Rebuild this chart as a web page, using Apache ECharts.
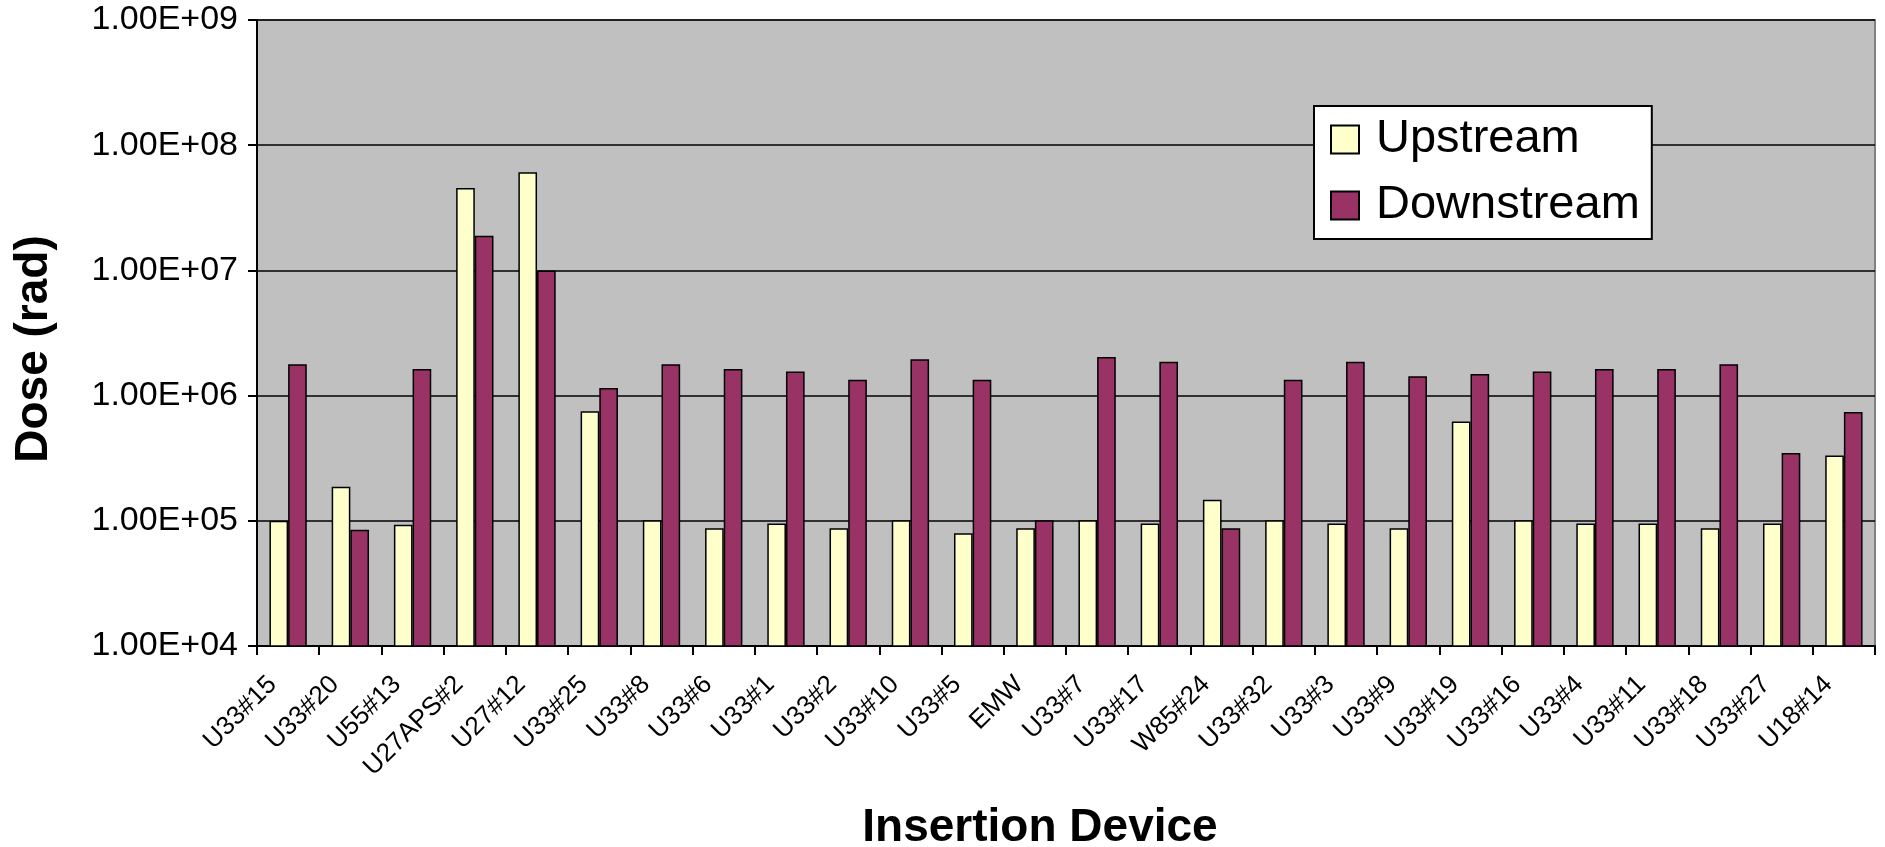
<!DOCTYPE html>
<html>
<head>
<meta charset="utf-8">
<script src="https://cdn.jsdelivr.net/npm/echarts@6/dist/echarts.min.js"></script>
<style>
html,body{margin:0;padding:0;background:#fff;}
#chart{width:1885px;height:847px;}
</style>
</head>
<body>
<div id="chart"></div>
<script>
const categories = ["U33#15","U33#20","U55#13","U27APS#2","U27#12","U33#25","U33#8","U33#6","U33#1","U33#2","U33#10","U33#5","EMW","U33#7","U33#17","W85#24","U33#32","U33#3","U33#9","U33#19","U33#16","U33#4","U33#11","U33#18","U33#27","U18#14"];
const upstream = [1.0e5,1.87e5,9.3e4,4.56e7,6.08e7,7.5e5,1.01e5,8.7e4,9.5e4,8.7e4,1.01e5,7.95e4,8.7e4,1.01e5,9.5e4,1.47e5,1.01e5,9.5e4,8.7e4,6.2e5,1.01e5,9.5e4,9.5e4,8.7e4,9.5e4,3.33e5];
const downstream = [1.78e6,8.5e4,1.63e6,1.89e7,1.0e7,1.15e6,1.78e6,1.63e6,1.56e6,1.34e6,1.95e6,1.34e6,1.01e5,2.03e6,1.86e6,8.7e4,1.34e6,1.86e6,1.43e6,1.49e6,1.56e6,1.63e6,1.63e6,1.78e6,3.48e5,7.38e5];
const seriesNames = ["Upstream","Downstream"];
const yTitle = "Dose (rad)";
const xTitle = "Insertion Device";

const chart = echarts.init(document.getElementById('chart'));
const font = 'Liberation Sans, Arial, sans-serif';
chart.setOption({
  animation: false,
  backgroundColor: '#ffffff',
  grid: {left: 257, top: 20, right: 10, bottom: 201, show: true, backgroundColor: '#c0c0c0', borderColor: '#808080', borderWidth: 2},
  legend: {
    orient: 'vertical', left: 1314, top: 106,
    backgroundColor: '#ffffff', borderColor: '#000000', borderWidth: 2,
    padding: [10, 12, 10, 16], itemWidth: 28, itemHeight: 28, itemGap: 19,
    icon: 'rect',
    textStyle: {fontSize: 47, fontFamily: font, color: '#000', padding: [0, 0, 0, 12]},
    itemStyle: {borderColor: '#000', borderWidth: 2},
    data: seriesNames
  },
  xAxis: {
    type: 'category', data: categories,
    axisLine: {lineStyle: {color: '#000', width: 2}},
    axisTick: {show: true, inside: false, length: 9, lineStyle: {color: '#000', width: 2}},
    axisLabel: {rotate: 45, fontSize: 26, fontFamily: 'Liberation Sans Narrow, Liberation Sans, Arial', color: '#000', margin: 19, interval: 0, padding: [0, 22, 0, 0]},
    splitLine: {show: false}
  },
  yAxis: {
    type: 'log', logBase: 10, min: 1e4, max: 1e9,
    axisLine: {show: true, lineStyle: {color: '#000', width: 2}},
    axisTick: {show: true, inside: false, length: 9, lineStyle: {color: '#000', width: 2}},
    axisLabel: {fontSize: 34, fontFamily: font, color: '#000', margin: 19,
      formatter: v => '1.00E+' + String(Math.round(Math.log10(v))).padStart(2, '0')},
    splitLine: {show: true, lineStyle: {color: '#000', width: 1.5}}
  },
  series: [
    {name: seriesNames[0], type: 'bar', data: upstream, barGap: '0%', barCategoryGap: '40%',
     itemStyle: {color: '#ffffcc', borderColor: '#000', borderWidth: 1.5}},
    {name: seriesNames[1], type: 'bar', data: downstream, barGap: '0%', barCategoryGap: '40%',
     itemStyle: {color: '#993366', borderColor: '#000', borderWidth: 1.5}}
  ],
  graphic: [
    {type: 'text', x: 34, y: 349, rotation: Math.PI / 2,
     style: {text: yTitle, font: 'bold 46px Liberation Sans, Arial', fill: '#000', textAlign: 'center', textVerticalAlign: 'middle'}},
    {type: 'text', x: 1040, y: 828,
     style: {text: xTitle, font: 'bold 46px Liberation Sans, Arial', fill: '#000', textAlign: 'center', textVerticalAlign: 'middle'}}
  ]
});
</script>
</body>
</html>
